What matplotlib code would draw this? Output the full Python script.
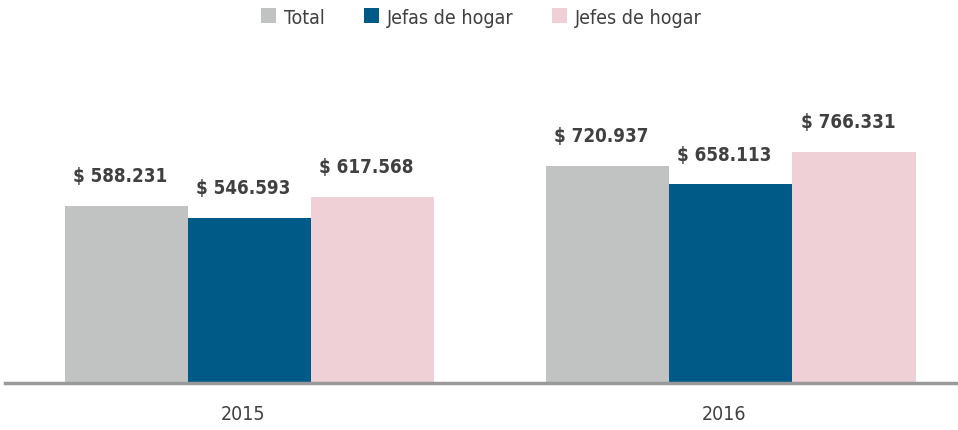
import numpy as np
import matplotlib
matplotlib.use("Agg")
import matplotlib.pyplot as plt

# Datos
years = ["2015", "2016"]
series_names = ["Total", "Jefas de hogar", "Jefes de hogar"]
total = [588.231, 720.937]
jefas = [546.593, 658.113]
jefes = [617.568, 766.331]
colors = ["#C1C3C2", "#005A87", "#F0D0D7"]

plt.rcParams['font.family'] = ['DejaVu Sans']
plt.rcParams['font.stretch'] = 'condensed'
text_color = "#404040"

fig = plt.figure(figsize=(9.58, 4.31), dpi=100)
ax = fig.add_axes([0.005, 0.109, 0.995, 0.798])

x = np.arange(len(years))
w = 0.256
offsets = [-w, 0, w]
for vals, name, col, off in zip([total, jefas, jefes], series_names, colors, offsets):
    bars = ax.bar(x + off, vals, width=w, color=col, label=name)
    for b, v in zip(bars, vals):
        lbl = "$ " + f"{v:.3f}"
        # etiquetas un poco a la izquierda, como en el original
        ax.annotate(lbl, (b.get_x() + b.get_width() / 2, v), xytext=(-4.5, 15),
                    textcoords="offset points", ha="center", va="bottom",
                    fontsize=13.5, fontweight="bold", color=text_color)

ax.set_xlim(-0.509, 1.472)
ax.set_ylim(0, 1140)
ax.set_xticks(x - 0.014)
ax.set_xticklabels(years, fontsize=14, color=text_color)
ax.tick_params(axis="x", length=0, pad=15)
ax.set_yticks([])
for s in ["top", "right", "left"]:
    ax.spines[s].set_visible(False)
ax.spines["bottom"].set_color("#999999")
ax.spines["bottom"].set_linewidth(2.5)

leg = ax.legend(loc="center", bbox_to_anchor=(0.5, 1.064), ncol=3, frameon=False,
                fontsize=14, handlelength=0.78, handleheight=0.78, columnspacing=2.0,
                handletextpad=0.4)
for t in leg.get_texts():
    t.set_color(text_color)

fig.savefig("out.png", dpi=100)
